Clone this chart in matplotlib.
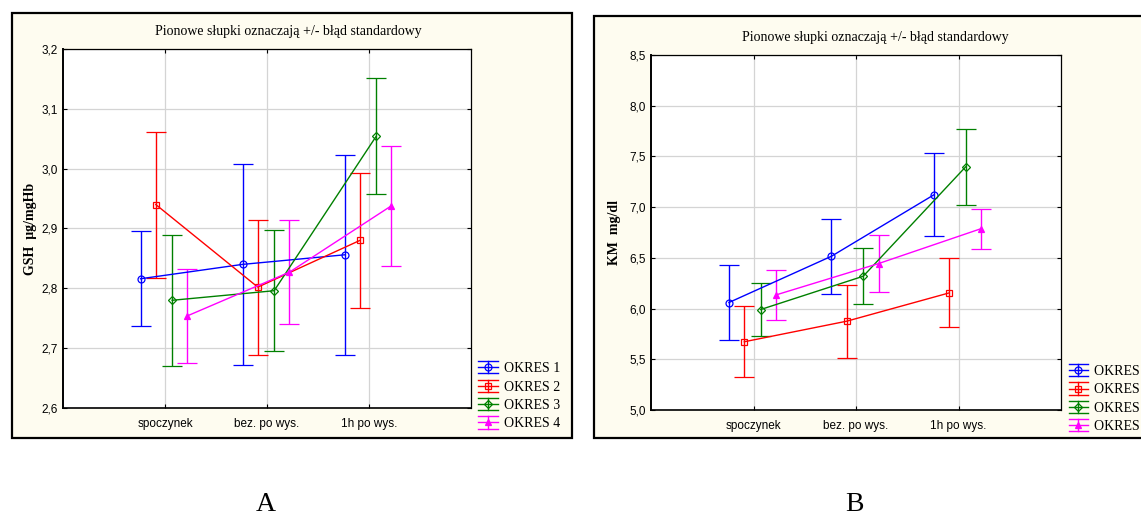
import numpy as np
import matplotlib
matplotlib.use('Agg')
import matplotlib.pyplot as plt
from matplotlib.lines import Line2D
from matplotlib.patches import Rectangle
from matplotlib.legend_handler import HandlerBase
from matplotlib.ticker import FuncFormatter

# categories and series
categories = ['spoczynek', 'bez. po wys.', '1h po wys.']
series = ['OKRES 1', 'OKRES 2', 'OKRES 3', 'OKRES 4']
colors = ['#0000ff', '#ff0000', '#008000', '#ff00ff']
markers = ['o', 's', 'D', '^']

# panel A: GSH ug/mgHb, means and standard errors
gsh_mean = [[2.816, 2.840, 2.856],
            [2.940, 2.802, 2.880],
            [2.780, 2.796, 3.054],
            [2.754, 2.827, 2.938]]
gsh_se = [[0.079, 0.168, 0.167],
          [0.122, 0.113, 0.113],
          [0.109, 0.101, 0.097],
          [0.079, 0.087, 0.100]]

# panel B: KM mg/dl
km_mean = [[6.06, 6.516, 7.122],
           [5.673, 5.876, 6.155],
           [5.991, 6.319, 7.398],
           [6.135, 6.444, 6.788]]
km_se = [[0.365, 0.372, 0.409],
         [0.350, 0.360, 0.340],
         [0.258, 0.274, 0.376],
         [0.248, 0.282, 0.197]]

offsets = [-0.24, -0.09, 0.07, 0.22]
title_txt = 'Pionowe słupki oznaczają +/- błąd standardowy'

SERIF = 'Liberation Serif'
SANS = 'Liberation Sans'


class ErrHandler(HandlerBase):
    # Statistica-like legend key: line, marker, and error caps
    def create_artists(self, legend, orig, xd, yd, w, h, fontsize, trans):
        c = orig.get_color()
        x0, x1 = -xd, w - xd
        yc = h / 2 - yd
        dy = h * 0.55
        xc = (x0 + x1) / 2
        arts = [
            Line2D([x0, x1], [yc, yc], color=c, lw=1),
            Line2D([x0, x1], [yc + dy, yc + dy], color=c, lw=1),
            Line2D([x0, x1], [yc - dy, yc - dy], color=c, lw=1),
            Line2D([xc, xc], [yc - dy, yc + dy], color=c, lw=1),
            Line2D([xc], [yc], marker=orig.get_marker(), color=c,
                   markersize=orig.get_markersize(),
                   markerfacecolor=orig.get_markerfacecolor(),
                   markeredgecolor=c, markeredgewidth=0.9, lw=0),
        ]
        for a in arts:
            a.set_transform(trans)
        return arts


def comma(v, pos):
    return ('%.1f' % v).replace('.', ',')


def draw_panel(fig, frame, axpos, means, ses, ylim, yticks, ylabel, legpos,
               title_x, lpad):
    fig.patches.append(Rectangle((frame[0], frame[1]), frame[2], frame[3],
                                 transform=fig.transFigure, facecolor='#fefcf0',
                                 edgecolor='black', linewidth=1.6, zorder=-5))
    fig.text(title_x, axpos[1] + axpos[3] + 0.034, title_txt, ha='center',
             va='center', family=SERIF, fontsize=10)
    ax = fig.add_axes(axpos)
    ax.set_facecolor('white')
    x = np.arange(1, len(categories) + 1)
    handles = []
    for i in range(len(series)):
        xs = x + offsets[i]
        mfc = colors[i] if markers[i] == '^' else 'none'
        ms = 5 if markers[i] != 'D' else 4
        ax.errorbar(xs, means[i], yerr=ses[i], color=colors[i], lw=1,
                    elinewidth=1, capsize=7, capthick=1, marker=markers[i],
                    markersize=ms, markerfacecolor=mfc,
                    markeredgecolor=colors[i], markeredgewidth=0.9, zorder=3)
        handles.append(Line2D([], [], color=colors[i], marker=markers[i],
                              markersize=ms, markerfacecolor=mfc))
    ax.set_xlim(0, 4)
    ax.set_ylim(*ylim)
    ax.set_xticks(x)
    ax.set_xticklabels(categories, family=SANS, fontsize=8.5)
    ax.set_yticks(yticks)
    ax.yaxis.set_major_formatter(FuncFormatter(comma))
    for lab in ax.get_yticklabels():
        lab.set_family(SANS)
        lab.set_fontsize(8.5)
    ax.tick_params(direction='in', length=3, width=0.8, top=True, right=True,
                   pad=4)
    ax.tick_params(axis='x', pad=7)
    ax.grid(True, color='#d4d4d4', lw=0.9)
    ax.set_axisbelow(True)
    for s in ax.spines.values():
        s.set_linewidth(0.9)
    ax.spines['left'].set_linewidth(1.4)
    ax.spines['bottom'].set_linewidth(1.2)
    ax.set_ylabel(ylabel, family=SERIF, fontweight='bold', fontsize=10,
                  labelpad=lpad)
    fig.legend(handles, series, handler_map={Line2D: ErrHandler()},
               loc='upper left', bbox_to_anchor=legpos, frameon=False,
               prop={'family': SERIF, 'size': 10}, handlelength=1.4,
               handletextpad=0.45, labelspacing=0.36, borderpad=0,
               handleheight=0.85)
    return ax


fig = plt.figure(figsize=(11.41, 5.2), dpi=100)
fig.patch.set_facecolor('white')

draw_panel(fig, (0.0105, 0.1577, 0.4908, 0.8173),
           [0.0552, 0.2154, 0.3576, 0.6904],
           gsh_mean, gsh_se, (2.6, 3.2), np.arange(2.6, 3.21, 0.1),
           'GSH  μg/mgHb', (0.4132, 0.3175), 0.2528, 3)
draw_panel(fig, (0.5206, 0.1577, 0.50, 0.8115),
           [0.5706, 0.2115, 0.3593, 0.6827],
           km_mean, km_se, (5.0, 8.5), np.arange(5.0, 8.51, 0.5),
           'KM  mg/dl', (0.9305, 0.312), 0.767, 6)

fig.text(0.233, 0.03, 'A', ha='center', va='center', family=SERIF, fontsize=20)
fig.text(0.749, 0.03, 'B', ha='center', va='center', family=SERIF, fontsize=20)

fig.savefig('out.png', dpi=100)
